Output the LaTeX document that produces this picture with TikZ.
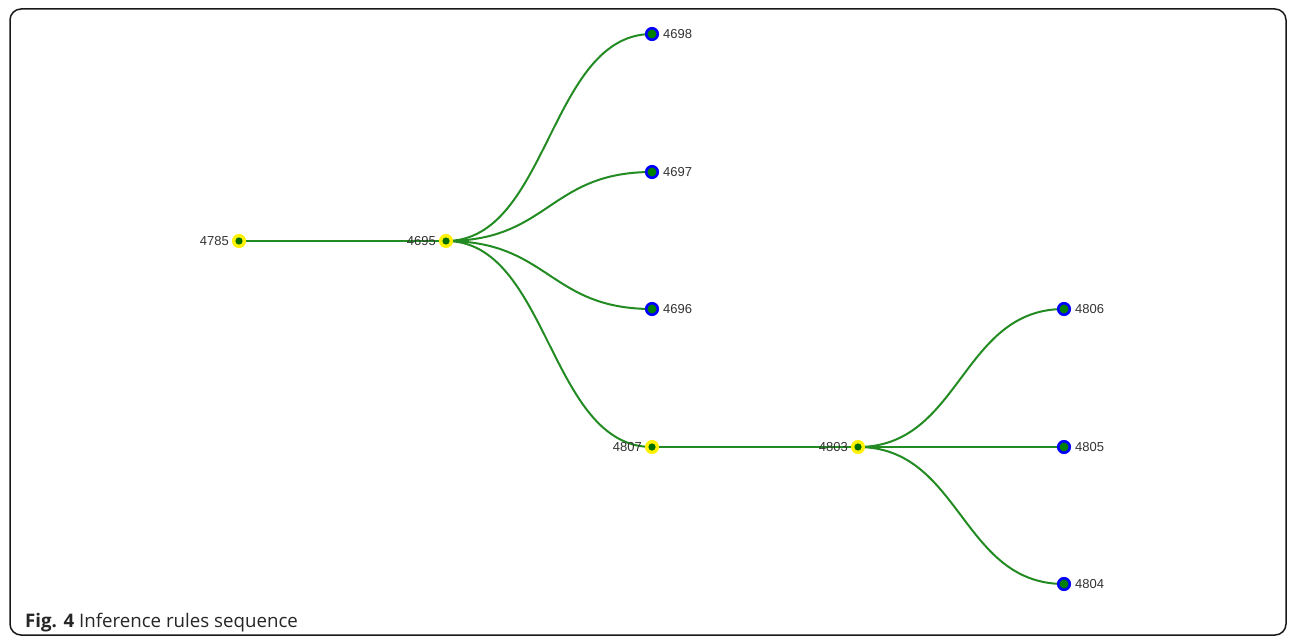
\documentclass[tikz,border=0pt]{standalone}
\usepackage{fontspec}
\setmainfont{Liberation Sans}
\newfontfamily\capfont{Open Sans}
\usetikzlibrary{backgrounds,calc}
\definecolor{edgegreen}{RGB}{34,139,34}
\definecolor{innergreen}{RGB}{0,110,0}
\definecolor{leafgreen}{RGB}{0,128,0}
\definecolor{labelgray}{RGB}{51,51,51}
\tikzset{
  inner/.style={circle, fill=yellow, draw=yellow, line width=2pt, inner sep=0pt, minimum size=12pt,
    path picture={\fill[innergreen] (path picture bounding box.center) circle (3.6pt);}},
  leaf/.style={circle, fill=leafgreen, draw=blue, line width=2.6pt, inner sep=0pt, minimum size=11.5pt},
  lbl/.style={font=\fontsize{13}{15}\selectfont, text=labelgray, inner sep=0pt},
  link/.style={draw=edgegreen, line width=2pt,
    to path={let \p1=(\tikztostart), \p2=(\tikztotarget) in
      .. controls ({(\x1+\x2)/2},\y1) and ({(\x1+\x2)/2},\y2) .. (\tikztotarget)}},
}
\begin{document}
\begin{tikzpicture}[x=1pt,y=-1pt]
\useasboundingbox (0,0) rectangle (1296,644);
\draw[line width=1.5pt, rounded corners=11pt, draw=black!90] (10,9) rectangle (1286,635);
% node positions
\coordinate (c4785) at (239,241);
\coordinate (c4695) at (446,241);
\coordinate (c4698) at (652,34);
\coordinate (c4697) at (652,172);
\coordinate (c4696) at (652,309);
\coordinate (c4807) at (652,447);
\coordinate (c4803) at (858,447);
\coordinate (c4806) at (1064,309);
\coordinate (c4805) at (1064,447);
\coordinate (c4804) at (1064,584);
% edges
\path (c4785) edge[link] (c4695)
      (c4695) edge[link] (c4698)
      (c4695) edge[link] (c4697)
      (c4695) edge[link] (c4696)
      (c4695) edge[link] (c4807)
      (c4807) edge[link] (c4803)
      (c4803) edge[link] (c4806)
      (c4803) edge[link] (c4805)
      (c4803) edge[link] (c4804);
% node markers
\node[inner] (n4785) at (c4785) {};
\node[inner] (n4695) at (c4695) {};
\node[inner] (n4807) at (c4807) {};
\node[inner] (n4803) at (c4803) {};
\node[leaf] (n4698) at (c4698) {};
\node[leaf] (n4697) at (c4697) {};
\node[leaf] (n4696) at (c4696) {};
\node[leaf] (n4806) at (c4806) {};
\node[leaf] (n4805) at (c4805) {};
\node[leaf] (n4804) at (c4804) {};
% labels
\node[lbl, anchor=east] (l4785) at ($(c4785)+(-10,0)$) {4785};
\node[lbl, anchor=east] (l4695) at ($(c4695)+(-10,0)$) {4695};
\node[lbl, anchor=east] (l4807) at ($(c4807)+(-10,0)$) {4807};
\node[lbl, anchor=east] (l4803) at ($(c4803)+(-10,0)$) {4803};
\node[lbl, anchor=west] (l4698) at ($(c4698)+(11,0)$) {4698};
\node[lbl, anchor=west] (l4697) at ($(c4697)+(11,0)$) {4697};
\node[lbl, anchor=west] (l4696) at ($(c4696)+(11,0)$) {4696};
\node[lbl, anchor=west] (l4806) at ($(c4806)+(11,0)$) {4806};
\node[lbl, anchor=west] (l4805) at ($(c4805)+(11,0)$) {4805};
\node[lbl, anchor=west] (l4804) at ($(c4804)+(11,0)$) {4804};
% caption
\node[anchor=base west, inner sep=0pt, font=\capfont\fontsize{18.7}{21}\selectfont, text=black!85] (cap) at (25,627) {\textbf{Fig. 4} Inference rules sequence};
\end{tikzpicture}
\end{document}
